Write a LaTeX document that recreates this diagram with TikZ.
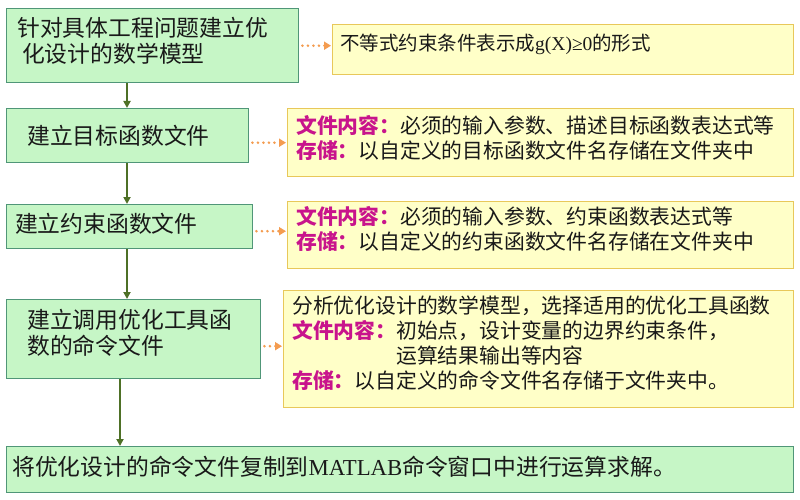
\documentclass[tikz,border=0pt]{standalone}
\usepackage{fontspec}
\setmainfont{Noto Sans CJK SC}
\newfontfamily\lat{Liberation Serif}
\usetikzlibrary{arrows.meta}
\definecolor{gfill}{RGB}{198,246,198}
\definecolor{gline}{RGB}{80,150,120}
\definecolor{yfill}{RGB}{255,255,200}
\definecolor{yline}{RGB}{232,200,90}
\definecolor{garr}{RGB}{78,112,38}
\definecolor{oarr}{RGB}{244,156,80}
\definecolor{mag}{RGB}{200,20,140}
\definecolor{txt}{RGB}{25,25,25}
\tikzset{
  gbox/.style={draw=gline, fill=gfill, line width=1.4pt, inner sep=0, anchor=north west},
  ybox/.style={draw=yline, fill=yfill, line width=1.4pt, inner sep=0, anchor=north west},
  gtext/.style={inner sep=0, anchor=west, align=left, text=txt, font=\fontsize{22.8}{26}\selectfont},
  ytext/.style={inner sep=0, anchor=west, align=left, text=txt, font=\fontsize{20.8}{24.5}\selectfont},
  garrow/.style={draw=garr, line width=1.8pt, -{Triangle[length=7pt,width=7pt]}},
  oarrow/.style={draw=oarr, line width=2.8pt, line cap=round, dash pattern=on 0pt off 5.5pt, -{Triangle[length=7pt,width=8pt]}, shorten >=1pt},
}
\newcommand{\lbl}[1]{\textcolor{mag}{\bfseries #1}}
\begin{document}
\begin{tikzpicture}[x=1pt,y=-1pt]
\useasboundingbox[fill=white] (0,0) rectangle (800,500);
% green boxes
\node[gbox, minimum width=292pt, minimum height=74pt] (b1) at (6,8) {};
\node[gbox, minimum width=242pt, minimum height=54pt] (b2) at (6,108) {};
\node[gbox, minimum width=246pt, minimum height=44pt] (b3) at (6,204) {};
\node[gbox, minimum width=254pt, minimum height=79pt] (b4) at (6,299) {};
\node[gbox, minimum width=787pt, minimum height=46pt] (b5) at (6,446) {};
% yellow boxes
\node[ybox, minimum width=461pt, minimum height=50pt] (y1) at (332,24) {};
\node[ybox, minimum width=506pt, minimum height=68pt] (y2) at (287,108) {};
\node[ybox, minimum width=506pt, minimum height=67pt] (y3) at (287,201) {};
\node[ybox, minimum width=510pt, minimum height=117pt] (y4) at (283,290) {};
% texts
\node[gtext] (t1) at (17,41) {针对具体工程问题建立优\\\hspace*{5pt}化设计的数学模型};
\node[gtext] (t2) at (27,136) {建立目标函数文件};
\node[gtext] (t3) at (15,224) {建立约束函数文件};
\node[gtext] (t4) at (27,333) {建立调用优化工具函\\数的命令文件};
\node[gtext] (t5) at (12,467) {将优化设计的命令文件复制到{\lat MATLAB}命令窗口中进行运算求解。};
\node[ytext, font=\fontsize{19.5}{23}\selectfont] (u1) at (340,44) {不等式约束条件表示成{\lat g(X)≥0}的形式};
\node[ytext] (u2) at (296,138) {\lbl{文件内容：}必须的输入参数、描述目标函数表达式等\\\lbl{存储：}以自定义的目标函数文件名存储在文件夹中};
\node[ytext] (u3) at (296,229) {\lbl{文件内容：}必须的输入参数、约束函数表达式等\\\lbl{存储：}以自定义的约束函数文件名存储在文件夹中};
\node[ytext, font=\fontsize{20.8}{25}\selectfont] (u4) at (292,343) {分析优化设计的数学模型，选择适用的优化工具函数\\\lbl{文件内容：}初始点，设计变量的边界约束条件，\\\hspace*{5em}运算结果输出等内容\\\lbl{存储：}以自定义的命令文件名存储于文件夹中。};
% vertical arrows
\draw[garrow] ([xshift=121pt]b1.south west) -- ([xshift=121pt]b2.north west);
\draw[garrow] ([xshift=121pt]b2.south west) -- ([xshift=121pt]b3.north west);
\draw[garrow] ([xshift=121pt]b3.south west) -- ([xshift=121pt]b4.north west);
\draw[garrow] ([xshift=114pt]b4.south west) -- ([xshift=114pt]b5.north west);
% dotted arrows
\draw[oarrow] ([xshift=3pt,yshift=4pt]b1.east |- y1.west) -- ([yshift=4pt]y1.west);
\draw[oarrow] ([xshift=3pt,yshift=0pt]b2.east |- y2.west) -- ([yshift=0pt]y2.west);
\draw[oarrow] ([xshift=3pt,yshift=4pt]b3.east |- y3.west) -- ([yshift=4pt]y3.west);
\draw[oarrow] ([xshift=3pt,yshift=3pt]b4.east |- y4.west) -- ([yshift=3pt]y4.west);
\end{tikzpicture}
\end{document}
